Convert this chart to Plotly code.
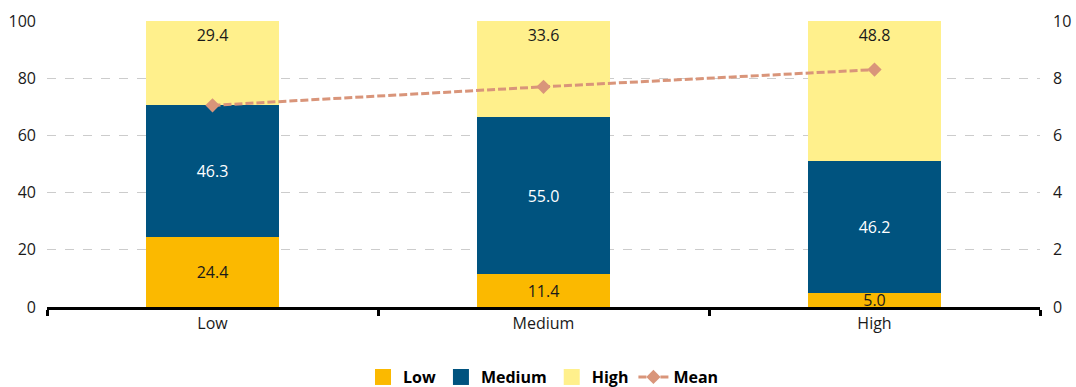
import plotly.graph_objects as go

categories = ["Low", "Medium", "High"]
low_vals = [24.4, 11.4, 5.0]
medium_vals = [46.3, 55.0, 46.2]
high_vals = [29.4, 33.6, 48.8]
mean_vals = [7.05, 7.7, 8.3]

FONT = "Open Sans, Noto Sans, sans-serif"
COL_LOW, COL_MED, COL_HIGH, COL_MEAN = "#fbb900", "#00537f", "#fff08c", "#d9957a"

fig = go.Figure()
fig.add_bar(x=categories, y=low_vals, name="Low", marker_color=COL_LOW,
            text=[f"{v:.1f}" for v in low_vals], textposition="inside",
            insidetextanchor="middle", constraintext="none", showlegend=False,
            textfont=dict(color="#1a1a1a", size=16, family=FONT))
fig.add_bar(x=categories, y=medium_vals, name="Medium", marker_color=COL_MED,
            text=[f"{v:.1f}" for v in medium_vals], textposition="inside",
            insidetextanchor="middle", constraintext="none", showlegend=False,
            textfont=dict(color="white", size=16, family=FONT))
fig.add_bar(x=categories, y=high_vals, name="High", marker_color=COL_HIGH,
            text=[f"{v:.1f}" for v in high_vals], textposition="inside",
            insidetextanchor="end", constraintext="none", showlegend=False,
            textfont=dict(color="#1a1a1a", size=16, family=FONT))
fig.update_traces(marker_line_width=0, selector=dict(type="bar"))

# legend proxies with larger square symbols
for nm, col in [("Low", COL_LOW), ("Medium", COL_MED), ("High", COL_HIGH)]:
    fig.add_scatter(x=[None], y=[None], mode="markers", name=f"<b>{nm}</b>",
                    marker=dict(symbol="square", size=16, color=col))

fig.add_scatter(x=categories, y=mean_vals, name="<b>Mean</b>", yaxis="y2",
                mode="lines+markers",
                line=dict(color=COL_MEAN, width=3, dash="8px,3px"),
                marker=dict(symbol="diamond", size=11, color=COL_MEAN))

fig.update_layout(
    width=1076, height=387,
    margin=dict(l=47, r=36, t=21, b=80, autoexpand=False),
    barmode="stack", bargap=0.6,
    plot_bgcolor="white", paper_bgcolor="white",
    font=dict(family=FONT, size=16, color="#1a1a1a"),
    xaxis=dict(showline=True, linecolor="black", linewidth=2.5,
               ticks="outside", tickson="boundaries", ticklen=6, tickwidth=2.5,
               tickcolor="black", showgrid=False, zeroline=False, automargin=False,
               tickfont=dict(size=16)),
    yaxis=dict(range=[0, 100], dtick=20, showgrid=True, gridcolor="#cccccc",
               griddash="dash", gridwidth=1, zeroline=False, ticks="",
               ticklabelstandoff=10, automargin=False, tickfont=dict(size=16)),
    yaxis2=dict(range=[0, 10], dtick=2, overlaying="y", side="right",
                showgrid=False, zeroline=False, ticks="", ticklabelstandoff=12,
                automargin=False, tickfont=dict(size=16)),
    legend=dict(orientation="h", x=0.5, xanchor="center", y=-0.245,
                yanchor="middle", font=dict(size=16, family=FONT, color="black"),
                traceorder="normal"),
    showlegend=True,
)

fig.write_html("out.html", config={"displayModeBar": False},
               post_script="document.body.style.margin='0';")
